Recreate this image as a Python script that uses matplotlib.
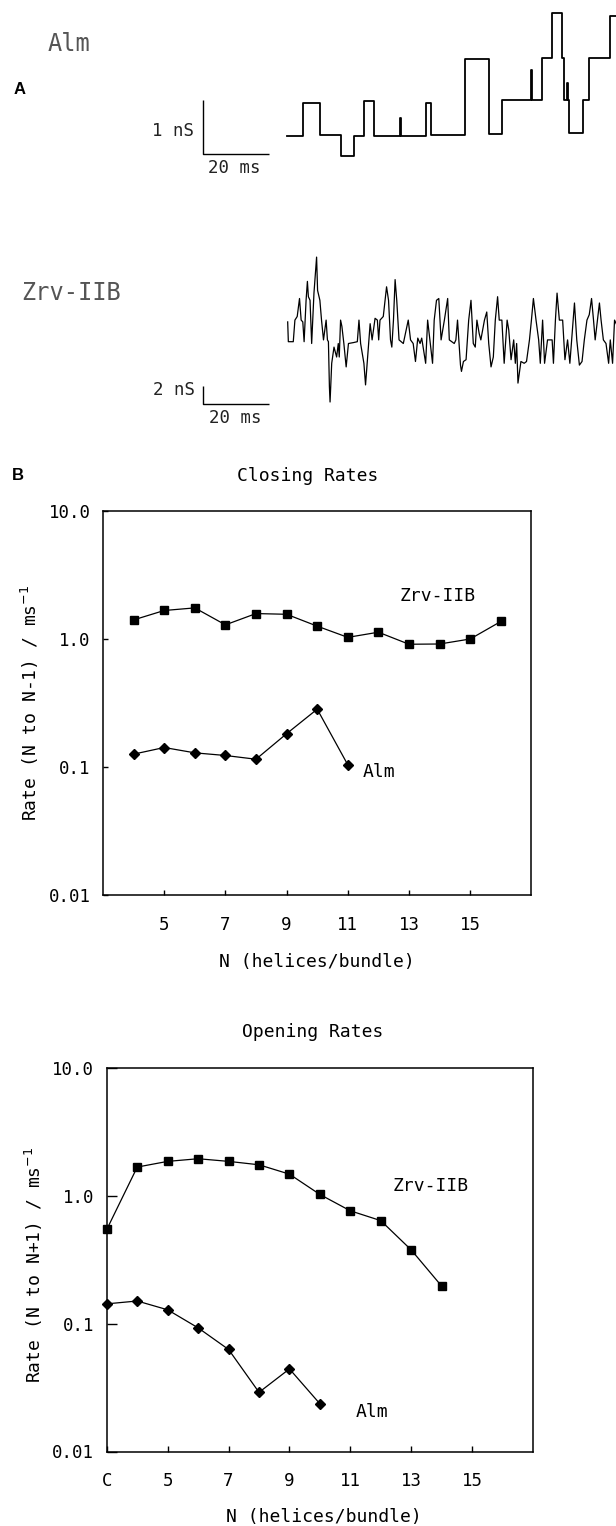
import matplotlib
matplotlib.use('Agg')
import matplotlib.pyplot as plt
from matplotlib.ticker import NullLocator, FixedLocator, FixedFormatter

# ---------------- data ----------------
# Panel A: Alm single-channel record (time in ms, conductance in nS, step levels)
alm_t = [0, 5.05, 10.1, 16.4, 20.6, 23.6, 26.7, 34.4, 34.7, 42.4, 43.9, 54.4, 61.5,
         65.5, 74.3, 74.6, 77.7, 80.8, 83.8, 84.5, 85.2, 85.5, 86.0, 90.1, 92.1, 98.4, 100.3]
alm_g = [0, 0.62, 0.02, -0.37, 0.0, 0.64, 0.0, 0.33, 0.0, 0.61, 0.02, 1.43, 0.03,
         0.67, 1.22, 0.67, 1.45, 2.27, 1.44, 0.67, 0.98, 0.67, 0.06, 0.67, 1.45, 2.22, 2.22]

# Panel A: Zrv-IIB record (time in ms, conductance in nS)
zrv_t = [0.3, 0.5, 2.0, 2.5, 3.2, 3.9, 4.4, 4.9, 5.3, 5.9,
         6.3, 6.6, 7.1, 7.6, 8.3, 9.1, 9.4, 10.1, 10.6, 11.2,
         12.0, 12.4, 12.7, 13.0, 13.2, 13.7, 14.4, 15.2, 15.7, 16.0,
         16.4, 16.8, 17.4, 18.1, 18.8, 20.3, 21.5, 22.0, 22.5, 23.5,
         24.0, 24.5, 25.4, 26.0, 26.9, 27.6, 28.0, 28.4, 29.4, 30.4,
         31.0, 31.6, 32.0, 32.5, 33.0, 33.5, 34.2, 35.5, 37.0, 37.7,
         38.5, 39.2, 39.9, 40.6, 41.1, 42.3, 42.9, 43.6, 44.4, 44.9,
         45.6, 46.3, 47.0, 48.0, 49.0, 49.5, 51.0, 51.5, 52.0, 52.9,
         53.2, 53.8, 54.6, 55.4, 56.1, 56.8, 57.4, 57.9, 58.6, 59.1,
         60.2, 60.9, 61.5, 62.2, 62.9, 63.5, 64.2, 64.7, 65.5, 66.2,
         67.1, 67.6, 68.3, 69.1, 69.6, 70.0, 70.4, 71.3, 72.3, 73.0,
         73.9, 74.5, 75.1, 75.9, 76.7, 77.2, 77.9, 78.5, 79.4, 80.8,
         81.2, 81.8, 82.3, 83.0, 84.0, 84.7, 85.5, 86.2, 87.6, 88.3,
         89.1, 89.9, 90.6, 91.4, 92.1, 92.8, 93.4, 93.9, 95.2, 95.7,
         96.4, 97.2, 98.0, 98.5, 99.2, 99.8, 100.3]
zrv_g = [2.2, 0, 0, 2.4, 2.8, 4.8, 2.4, 2.2, 0, 4.6,
         6.7, 5.0, 4.6, -0.2, 5.4, 9.4, 5.7, 4.6, 2.4, 0.2,
         2.4, 0.2, 0, -5.0, -6.7, -2.4, -0.6, -1.7, -0.2, -1.7,
         2.4, 1.7, -0.2, -2.8, -0.2, -0.1, 0, 2.4, -0.2, -2.4,
         -4.8, -2.4, 2.0, 0.2, 2.6, 2.4, 0.2, 2.4, 2.8, 6.1,
         4.6, 0.2, -0.6, 2.4, 6.9, 4.6, 0.2, -0.2, 2.4, 0.2,
         -0.2, -2.2, 0.4, -0.2, 0.4, -2.4, 2.4, 0.2, -2.4, 2.4,
         4.6, 4.8, 0.2, 2.4, 4.8, 0.2, -0.2, 0.2, 2.4, -2.6,
         -3.3, -2.2, -2.0, 2.4, 4.6, -0.2, -0.6, 2.4, 0.9, 0.2,
         2.4, 3.3, -0.2, -2.8, -1.7, 2.4, 5.0, 2.4, 2.4, -2.4,
         2.4, 1.3, -2.0, 0.2, -2.4, -0.2, -4.6, -2.2, -2.4, -2.2,
         0.2, 2.4, 4.8, 2.4, 0.2, -2.4, 2.4, -2.4, 0.2, 0.2,
         -2.4, 2.4, 5.4, 2.4, 2.4, -2.0, 0.2, -2.4, 4.3, 0.2,
         -2.6, -2.2, 0.2, 2.4, 3.0, 4.8, 2.4, 0.2, 4.3, 2.4,
         0.2, -0.2, -2.4, 0.2, -2.4, 2.4, 2.0]

# Panel B: closing rates
close_n_zrv = [4, 5, 6, 7, 8, 9, 10, 11, 12, 13, 14, 15, 16]
close_zrv = [1.41, 1.67, 1.75, 1.29, 1.58, 1.56, 1.26, 1.03, 1.13, 0.91, 0.914, 1.0, 1.37]
close_n_alm = [4, 5, 6, 7, 8, 9, 10, 11]
close_alm = [0.126, 0.142, 0.129, 0.123, 0.115, 0.182, 0.283, 0.104]

# Panel B: opening rates
open_n_zrv = [3, 4, 5, 6, 7, 8, 9, 10, 11, 12, 13, 14]
open_zrv = [0.544, 1.67, 1.85, 1.94, 1.85, 1.74, 1.47, 1.02, 0.76, 0.637, 0.376, 0.196]
open_n_alm = [3, 4, 5, 6, 7, 8, 9, 10]
open_alm = [0.1425, 0.150, 0.128, 0.0925, 0.0627, 0.029, 0.0442, 0.0236]

x_ticks = [5, 7, 9, 11, 13, 15]
x_ticks_open = [3, 5, 7, 9, 11, 13, 15]
x_ticklabels_open = ['C', '5', '7', '9', '11', '13', '15']
y_ticks = [0.01, 0.1, 1.0, 10.0]
y_ticklabels = ['0.01', '0.1', '1.0', '10.0']

# ---------------- figure ----------------
W, H = 616, 1526
fig = plt.figure(figsize=(W / 100, H / 100), dpi=100)
MONO = 'DejaVu Sans Mono'
plt.rcParams['font.family'] = MONO
plt.rcParams['mathtext.fontset'] = 'dejavusans'


def px_axes(x0, y0, x1, y1):
    return fig.add_axes([x0 / W, 1 - y1 / H, (x1 - x0) / W, (y1 - y0) / H])


def ftext(x, y, s, **kw):
    fig.text(x / W, 1 - y / H, s, **kw)


# ---- Panel A traces ----
PX_PER_MS = 3.285
T0_PX = 286.7
ax_left_px = 130


def trace_axes(y0, y1, px_per_nS, base_px):
    ax = px_axes(ax_left_px, y0, W, y1)
    ax.set_xlim((ax_left_px - T0_PX) / PX_PER_MS, (W - T0_PX) / PX_PER_MS)
    ax.set_ylim((base_px - y1) / px_per_nS, (base_px - y0) / px_per_nS)
    ax.axis('off')
    return ax


axA1 = trace_axes(0, 190, 54.0, 136.0)
axA1.plot(alm_t, alm_g, drawstyle='steps-post', color='black', lw=1.3)
sb_t = -25.5
axA1.plot([sb_t, sb_t, sb_t + 20], [0.667, -0.333, -0.333], color='black', lw=1.0,
          solid_capstyle='butt')
axA1.text(sb_t - 2.6, 0.10, '1 nS', ha='right', va='center', fontsize=12.5, color='#222')
axA1.text(sb_t + 9.6, -0.60, '20 ms', ha='center', va='center', fontsize=12.5, color='#222')

axA2 = trace_axes(240, 450, 9.0, 341.7)
axA2.plot(zrv_t, zrv_g, color='black', lw=0.9)
axA2.plot([sb_t, sb_t, sb_t + 20], [-4.89, -6.89, -6.89], color='black', lw=1.0,
          solid_capstyle='butt')
axA2.text(sb_t - 2.4, -5.37, '2 nS', ha='right', va='center', fontsize=12.5, color='#222')
axA2.text(sb_t + 9.8, -8.45, '20 ms', ha='center', va='center', fontsize=12.5, color='#222')

ftext(69, 44, 'Alm', ha='center', va='center', fontsize=17, color='#555')
ftext(71, 293, 'Zrv-IIB', ha='center', va='center', fontsize=17, color='#555')
ftext(20, 89, 'A', ha='center', va='center', fontsize=12, fontweight='bold',
      family='Liberation Sans')
ftext(18, 476, 'B', ha='center', va='center', fontsize=12, fontweight='bold',
      family='Liberation Sans')


# ---- Panel B rate plots ----
def rate_axes(box, ytick_len, xtick_len):
    ax = px_axes(*box)
    ax.set_yscale('log')
    ax.set_ylim(0.01, 10)
    ax.set_xlim(3, 17)
    ax.yaxis.set_major_locator(FixedLocator(y_ticks))
    ax.yaxis.set_major_formatter(FixedFormatter(y_ticklabels))
    ax.yaxis.set_minor_locator(NullLocator())
    ax.xaxis.set_minor_locator(NullLocator())
    for s in ax.spines.values():
        s.set_linewidth(1.1)
    ax.tick_params(axis='y', direction='in', length=ytick_len, width=1.0, pad=9,
                   labelsize=12.5)
    ax.tick_params(axis='x', direction='in', length=xtick_len, width=1.0, pad=15,
                   labelsize=12.5)
    return ax


axC = rate_axes((103, 511, 531.4, 895), 3.6, 3.6)
axC.set_xticks(x_ticks)
axC.set_xticklabels([str(v) for v in x_ticks])
axC.plot(close_n_zrv, close_zrv, '-s', color='black', lw=0.9, ms=6.2, clip_on=False)
axC.plot(close_n_alm, close_alm, '-D', color='black', lw=0.9, ms=5.2, clip_on=False)
axC.text(13.95, 2.17, 'Zrv-IIB', ha='center', va='center', fontsize=13)
axC.text(12.02, 0.0914, 'Alm', ha='center', va='center', fontsize=13)
ftext(308, 476, 'Closing Rates', ha='center', va='center', fontsize=13)
ftext(317, 962, 'N (helices/bundle)', ha='center', va='center', fontsize=13)
ftext(30, 703, 'Rate (N to N-1) / ms$^{-1}$', ha='center', va='center', fontsize=13,
      rotation=90)

axO = rate_axes((106.8, 1067.6, 533, 1451.5), 7.0, 4.5)
axO.set_xticks(x_ticks_open)
axO.set_xticklabels(x_ticklabels_open)
axO.plot(open_n_zrv, open_zrv, '-s', color='black', lw=0.9, ms=6.2, clip_on=False)
axO.plot(open_n_alm, open_alm, '-D', color='black', lw=0.9, ms=5.2, clip_on=False)
axO.text(13.65, 1.19, 'Zrv-IIB', ha='center', va='center', fontsize=13)
axO.text(11.71, 0.0204, 'Alm', ha='center', va='center', fontsize=13)
ftext(313, 1032, 'Opening Rates', ha='center', va='center', fontsize=13)
ftext(324, 1517, 'N (helices/bundle)', ha='center', va='center', fontsize=13)
ftext(34, 1265, 'Rate (N to N+1) / ms$^{-1}$', ha='center', va='center', fontsize=13,
      rotation=90)

fig.savefig('out.png', dpi=100, facecolor='white')
